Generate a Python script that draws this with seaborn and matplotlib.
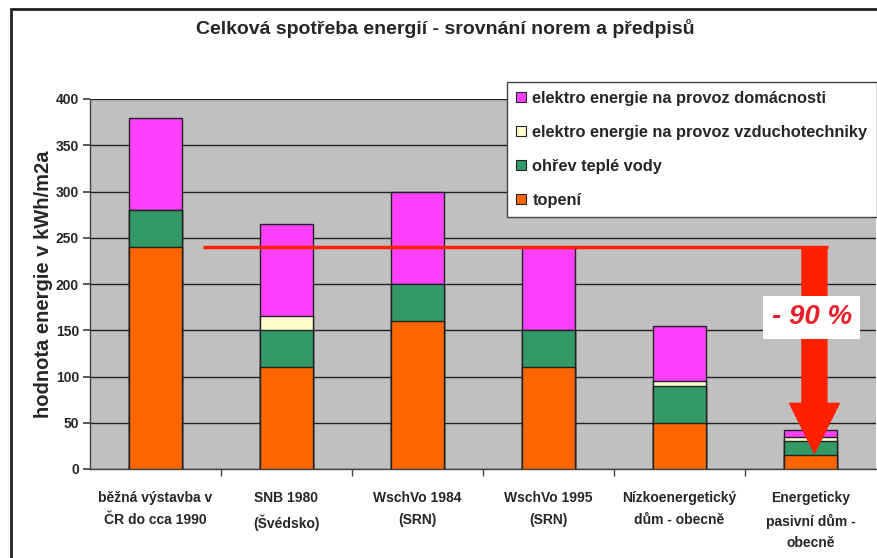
import matplotlib
matplotlib.use("Agg")
import matplotlib.pyplot as plt
import seaborn as sns
import pandas as pd
import numpy as np
from matplotlib.patches import Rectangle, FancyArrow

categories = ["běžná výstavba v\nČR do cca 1990", "SNB 1980\n(Švédsko)", "WschVo 1984\n(SRN)",
              "WschVo 1995\n(SRN)", "Nízkoenergetický\ndům - obecně", "Energeticky\npasivní dům -\nobecně"]
topeni = [240, 110, 160, 110, 50, 15]
ohrev_vody = [40, 40, 40, 40, 40, 15]
vzduchotechnika = [0, 15, 0, 0, 5, 5]
domacnost = [100, 100, 100, 90, 60, 7]
series_names = ["elektro energie na provoz domácnosti", "elektro energie na provoz vzduchotechniky",
                "ohřev teplé vody", "topení"]
limit_value = 240
reduction_label = "- 90 %"
title = "Celková spotřeba energií - srovnání norem a předpisů"
ylabel = "hodnota energie v kWh/m2a"

colors = {"topení": "#FF6600", "ohřev teplé vody": "#339966",
          "elektro energie na provoz vzduchotechniky": "#FFFFCC",
          "elektro energie na provoz domácnosti": "#FF40FF"}

sns.set_theme(style="white")
plt.rcParams['font.family'] = ['Liberation Sans', 'DejaVu Sans']

fig = plt.figure(figsize=(8.77, 5.58), dpi=100)
ax = fig.add_axes([90/877, (558-469)/558, 786/877, (469-99)/558])
ax.set_facecolor("#C0C0C0")

t = np.array(topeni); o = np.array(ohrev_vody); v = np.array(vzduchotechnika); d = np.array(domacnost)
layers = [("elektro energie na provoz domácnosti", t + o + v + d),
          ("elektro energie na provoz vzduchotechniky", t + o + v),
          ("ohřev teplé vody", t + o),
          ("topení", t)]
for name, vals in layers:
    df = pd.DataFrame({"cat": categories, "val": vals})
    sns.barplot(data=df, x="cat", y="val", color=colors[name], width=0.41,
                edgecolor="#222222", linewidth=1.0, saturation=1, ax=ax, zorder=3)

ax.set_xlim(-0.5, 5.5)
ax.set_ylim(0, 400)
ax.set_yticks(range(0, 401, 50))
ax.grid(axis="y", color="#222222", linewidth=1.0, zorder=1)
ax.set_axisbelow(True)
for s in ["top", "right"]:
    ax.spines[s].set_visible(False)
for s in ["left", "bottom"]:
    ax.spines[s].set_color("#444444")
    ax.spines[s].set_linewidth(1.0)
ax.set_xlabel("")
ax.set_ylabel(ylabel, fontsize=14.5, fontweight="bold")
ax.yaxis.set_label_coords(-0.047, 0.5)
ax.set_xticks(range(len(categories)))
ax.set_xticklabels(categories, fontsize=10, fontweight="bold", linespacing=1.7, va="top")
ax.set_xticks(np.arange(0.5, 5.5, 1), minor=True)
ax.tick_params(axis="x", which="major", length=0, pad=16)
ax.tick_params(axis="x", which="minor", length=5, color="#444444", direction="out", bottom=True)
ax.tick_params(axis="y", length=5, color="#444444", direction="out", left=True, labelsize=10, pad=3)
for lb in ax.get_yticklabels():
    lb.set_fontweight("bold")

# red limit line and arrow
ax.plot([0.36, 5.13], [limit_value, limit_value], color="#FF2000", linewidth=2.5, zorder=5,
        solid_capstyle="butt")
ax.add_patch(FancyArrow(5.03, limit_value, 0, 17 - limit_value, width=0.19, head_width=0.38,
                        head_length=54, length_includes_head=True, color="#FF2000", zorder=6))
ax.text(5.01, 164, reduction_label, color="#E8202A", fontsize=20, fontweight="bold", style="italic",
        ha="center", va="center", zorder=7,
        bbox=dict(boxstyle="square,pad=0.3", facecolor="white", edgecolor="none"))

# legend
handles = [Rectangle((0, 0), 1, 1, facecolor=colors[n], edgecolor="#222222", linewidth=0.8)
           for n in series_names]
leg = fig.legend(handles, series_names, loc="upper left", bbox_to_anchor=(507/877, 1 - 82/558),
                 frameon=True, fancybox=False, fontsize=11.8, handlelength=0.6, handleheight=0.6,
                 handletextpad=0.4, labelspacing=1.15, borderpad=0.55, borderaxespad=0,
                 framealpha=1)
leg.get_frame().set_edgecolor("#444444")
leg.get_frame().set_facecolor("white")
leg.get_frame().set_linewidth(1.0)
for tx in leg.get_texts():
    tx.set_fontweight("bold")

fig.text(445/877, 1 - 29/558, title, ha="center", va="center", fontsize=14, fontweight="bold")

# outer frame
fig.add_artist(Rectangle((11/877, -0.1), 1.2, 1 - 9/558 + 0.1, transform=fig.transFigure,
                         fill=False, edgecolor="#222222", linewidth=2))

fig.savefig("out.png", dpi=100, facecolor="white")
